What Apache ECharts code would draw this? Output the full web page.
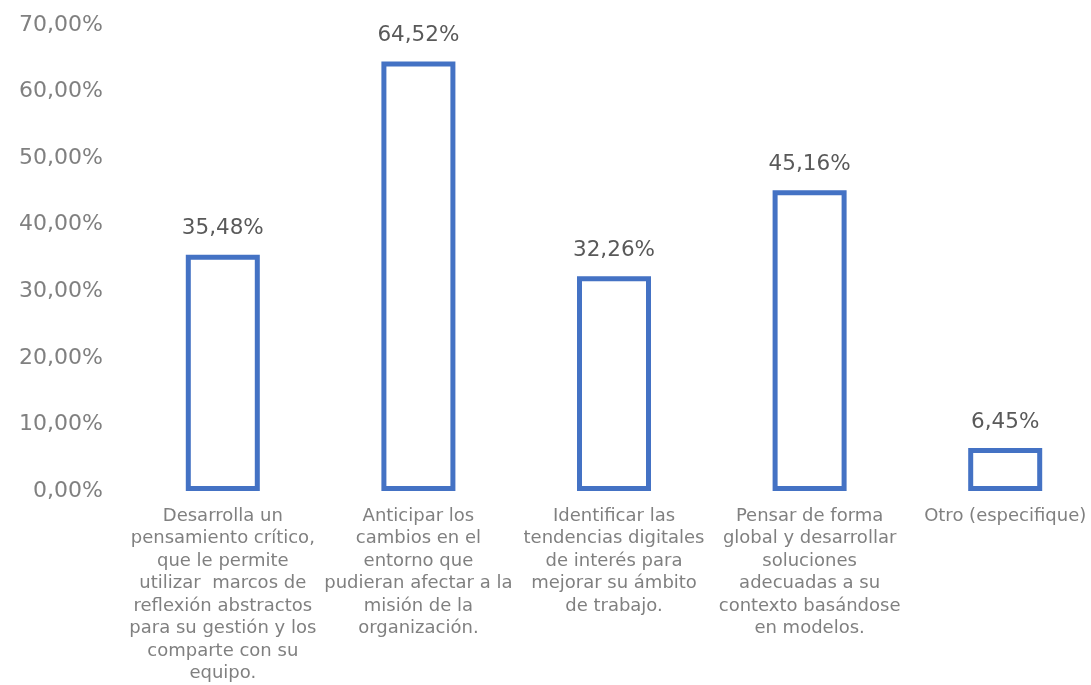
<!DOCTYPE html>
<html>
<head>
<meta charset="utf-8">
<script src="https://cdn.jsdelivr.net/npm/echarts@6/dist/echarts.min.js"></script>
<style>
  html, body { margin: 0; padding: 0; background: #ffffff; }
  #chart { width: 1091px; height: 685px; }
</style>
</head>
<body>
<div id="chart"></div>
<script>
// Category labels, one line per entry
const categories = [
  ['Desarrolla un', 'pensamiento crítico,', 'que le permite', 'utilizar  marcos de', 'reflexión abstractos', 'para su gestión y los', 'comparte con su', 'equipo.'],
  ['Anticipar los', 'cambios en el', 'entorno que', 'pudieran afectar a la', 'misión de la', 'organización.'],
  ['Identificar las', 'tendencias digitales', 'de interés para', 'mejorar su ámbito', 'de trabajo.'],
  ['Pensar de forma', 'global y desarrollar', 'soluciones', 'adecuadas a su', 'contexto basándose', 'en modelos.'],
  ['Otro (especifique)']
];

// Share of respondents (%)
const values = [35.48, 64.52, 32.26, 45.16, 6.45];

// Y axis range and step (%)
const yMin = 0;
const yMax = 70;
const yStep = 10;

const FONT = 'DejaVu Sans';
const fmt = v => v.toFixed(2).replace('.', ',') + '%';

const chart = echarts.init(document.getElementById('chart'), null, { renderer: 'canvas' });

chart.setOption({
  animation: false,
  backgroundColor: '#ffffff',
  grid: {
    left: 125, top: 25, width: 978, bottom: 194,
    containLabel: false,
    outerBoundsMode: 'none'
  },
  xAxis: {
    type: 'category',
    data: categories.map(lines => lines.join('\n')),
    axisLine: { show: false },
    axisTick: { show: false },
    axisLabel: {
      interval: 0,
      margin: 14,
      color: '#808080',
      fontFamily: FONT,
      fontSize: 18,
      lineHeight: 22.5,
      align: 'center',
      hideOverlap: false
    }
  },
  yAxis: {
    type: 'value',
    min: yMin,
    max: yMax,
    interval: yStep,
    splitLine: { show: false },
    axisLine: { show: false },
    axisTick: { show: false },
    axisLabel: {
      margin: 22,
      color: '#808080',
      fontFamily: FONT,
      fontSize: 22,
      formatter: v => fmt(v)
    }
  },
  series: [{
    type: 'bar',
    data: values,
    barWidth: 74,
    itemStyle: {
      color: '#ffffff',
      borderColor: '#4472c4',
      borderWidth: 5
    },
    label: {
      show: true,
      position: 'top',
      distance: 15,
      color: '#595959',
      fontFamily: FONT,
      fontSize: 21.5,
      formatter: p => fmt(p.value)
    }
  }]
});
</script>
</body>
</html>
